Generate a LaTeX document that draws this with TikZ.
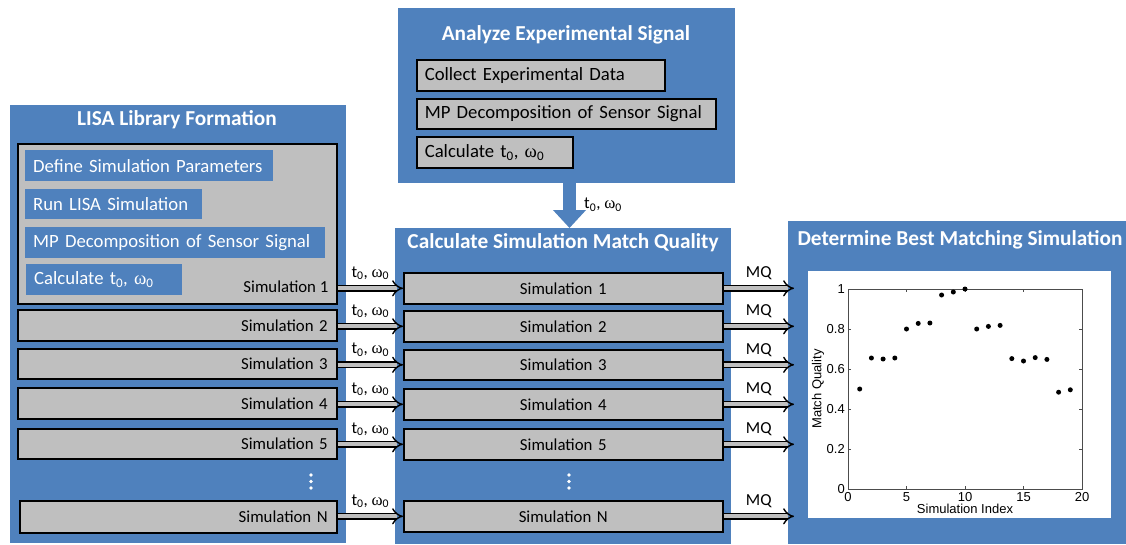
\documentclass[tikz,border=0pt]{standalone}
\usepackage{fontspec}
\setmainfont{Carlito}
\newfontfamily\plotfont{Liberation Sans}
\newfontfamily\greekfont{Liberation Serif}
\usetikzlibrary{arrows.meta,calc}
\definecolor{pblue}{HTML}{4F81BD}
\definecolor{bgrey}{HTML}{BFBFBF}
\newcommand{\tw}{t\textsubscript{0}, {\greekfont ω}\textsubscript{0}}
\begin{document}
\begin{tikzpicture}[x=1pt,y=-1pt,
  panel/.style={fill=pblue, draw=none, anchor=north west, inner sep=0pt},
  ptitle/.style={text=white, font=\fontsize{21.3}{23}\selectfont\bfseries},
  gbox/.style={fill=bgrey, draw=black, line width=1.6pt, anchor=north west, inner xsep=8pt, inner ysep=0pt, align=left, font=\fontsize{18.7}{20}\selectfont},
  bbox/.style={fill=pblue, draw=none, anchor=north west, inner xsep=8pt, inner ysep=0pt, align=left, text=white, font=\fontsize{18.7}{20}\selectfont},
  simbox/.style={fill=bgrey, draw=black, line width=1.6pt, anchor=north west, inner xsep=9pt, inner ysep=0pt, font=\fontsize{16.8}{18}\selectfont},
  lbl/.style={font=\fontsize{16.8}{18}\selectfont, inner sep=0pt},
  harrow/.style={double=bgrey, double distance=4.2pt, line width=1.4pt, -{Implies}},
  plotlbl/.style={font=\plotfont\fontsize{13}{15}\selectfont, inner sep=0pt}
]
\useasboundingbox (0,0) rectangle (1126,544);

% panels
\node[panel, minimum width=336, minimum height=438] (lp) at (10,105) {};
\node[panel, minimum width=337, minimum height=175] (ae) at (398,8) {};
\node[panel, minimum width=336, minimum height=316] (cq) at (395,228) {};
\node[panel, minimum width=338, minimum height=323] (rp) at (788,221) {};

% titles
\node[ptitle] (tl) at (177,120) {LISA Library Formation};
\node[ptitle] (ta) at (566,35) {Analyze Experimental Signal};
\node[ptitle] (tc) at (563,243) {Calculate Simulation Match Quality};
\node[ptitle] (tr) at (960,240) {Determine Best Matching Simulation};

% analyze experimental signal boxes
\node[gbox, text width=232, minimum height=31] (a1) at (416,59) {Collect Experimental Data};
\node[gbox, text width=283, minimum height=30] (a2) at (416,98) {MP Decomposition of Sensor Signal};
\node[gbox, text width=140, minimum height=31] (a3) at (416,136) {Calculate \tw};

% left simulation boxes
\node[simbox, minimum width=319, minimum height=160] (l1) at (17,143) {};
\node[bbox, text width=232, minimum height=31] (d1) at (25,150) {Define Simulation Parameters};
\node[bbox, text width=161, minimum height=30] (d2) at (25,189) {Run LISA Simulation};
\node[bbox, text width=284, minimum height=31] (d3) at (25,227) {MP Decomposition of Sensor Signal};
\node[bbox, text width=140, minimum height=31] (d4) at (26,264) {Calculate \tw};
\node[lbl, anchor=east] (l1t) at ($(l1.south east)+(-9,-18)$) {Simulation 1};

\node[simbox, text width=301, align=right, minimum height=31] (l2) at (17,309) {Simulation 2};
\node[simbox, text width=301, align=right, minimum height=30] (l3) at (17,348) {Simulation 3};
\node[simbox, text width=301, align=right, minimum height=31] (l4) at (17,387) {Simulation 4};
\node[simbox, text width=301, align=right, minimum height=30] (l5) at (17,428) {Simulation 5};
\node[simbox, text width=299, align=right, minimum height=32] (lN) at (19,500) {Simulation N};

% middle simulation boxes
\node[simbox, text width=301, align=center, minimum height=31] (m1) at (403,272) {Simulation 1};
\node[simbox, text width=301, align=center, minimum height=31] (m2) at (403,310) {Simulation 2};
\node[simbox, text width=301, align=center, minimum height=30] (m3) at (403,349) {Simulation 3};
\node[simbox, text width=301, align=center, minimum height=31] (m4) at (403,388) {Simulation 4};
\node[simbox, text width=301, align=center, minimum height=31] (m5) at (403,428) {Simulation 5};
\node[simbox, text width=301, align=center, minimum height=31] (mN) at (403,500) {Simulation N};

% vertical dots
\foreach \yy in {475,481.5,488} {
  \fill[white] (311,\yy) circle (1.8);
  \fill[white] (569,\yy) circle (1.8);
}

% down arrow
\coordinate (ax) at (569.5,0);
\draw[pblue, line width=13pt, -{Triangle[width=32pt,length=18pt]}] (ae.south -| ax) -- (cq.north -| ax);
\node[lbl, anchor=west] (tdown) at (584,205) {\tw};

% t0 w0 arrows
\coordinate (qx) at (794,0);
\foreach \L/\M in {l1/m1,l2/m2,l3/m3,l4/m4,l5/m5,lN/mN} {
  \draw[harrow] (\M.west -| \L.east) -- (\M.west);
  \node[lbl] at ($(\M.west -| \L.east)!0.5!(\M.west)+(0,-15)$) {\tw};
  \draw[harrow] (\M.east) -- (\M.east -| qx);
  \node[lbl] at ($(\M.east)!0.5!(\M.east -| qx)+(0,-15)$) {MQ};
}

% plot
\node[fill=white, anchor=north west, inner sep=0pt, minimum width=303, minimum height=247] (pw) at (808,271) {};
\draw[black!70, line width=0.6pt] (848,289) rectangle (1082,489);
\foreach \i in {0,5,10,15,20} {
  \draw[black!70, line width=0.6pt] ({848+11.7*\i},489) -- ++(0,-3);
  \draw[black!70, line width=0.6pt] ({848+11.7*\i},289) -- ++(0,3);
  \node[plotlbl, anchor=north] at ({848+11.7*\i},492) {\i};
}
\foreach \v/\t in {0/0,0.2/0.2,0.4/0.4,0.6/0.6,0.8/0.8,1/1} {
  \draw[black!70, line width=0.6pt] (848,{489-200*\v}) -- ++(3,0);
  \draw[black!70, line width=0.6pt] (1082,{489-200*\v}) -- ++(-3,0);
  \node[plotlbl, anchor=east] at (845,{489-200*\v}) {\t};
}
\node[plotlbl, rotate=90] at (818,389) {Match Quality};
\node[plotlbl] at (965,509) {Simulation Index};
\foreach \i/\v in {1/0.5,2/0.655,3/0.65,4/0.655,5/0.80,6/0.828,7/0.83,8/0.97,9/0.985,10/1.0,11/0.80,12/0.813,13/0.818,14/0.652,15/0.64,16/0.657,17/0.648,18/0.484,19/0.496} {
  \fill ({848+11.7*\i},{489-200*\v}) circle (2.5);
}
\end{tikzpicture}
\end{document}
